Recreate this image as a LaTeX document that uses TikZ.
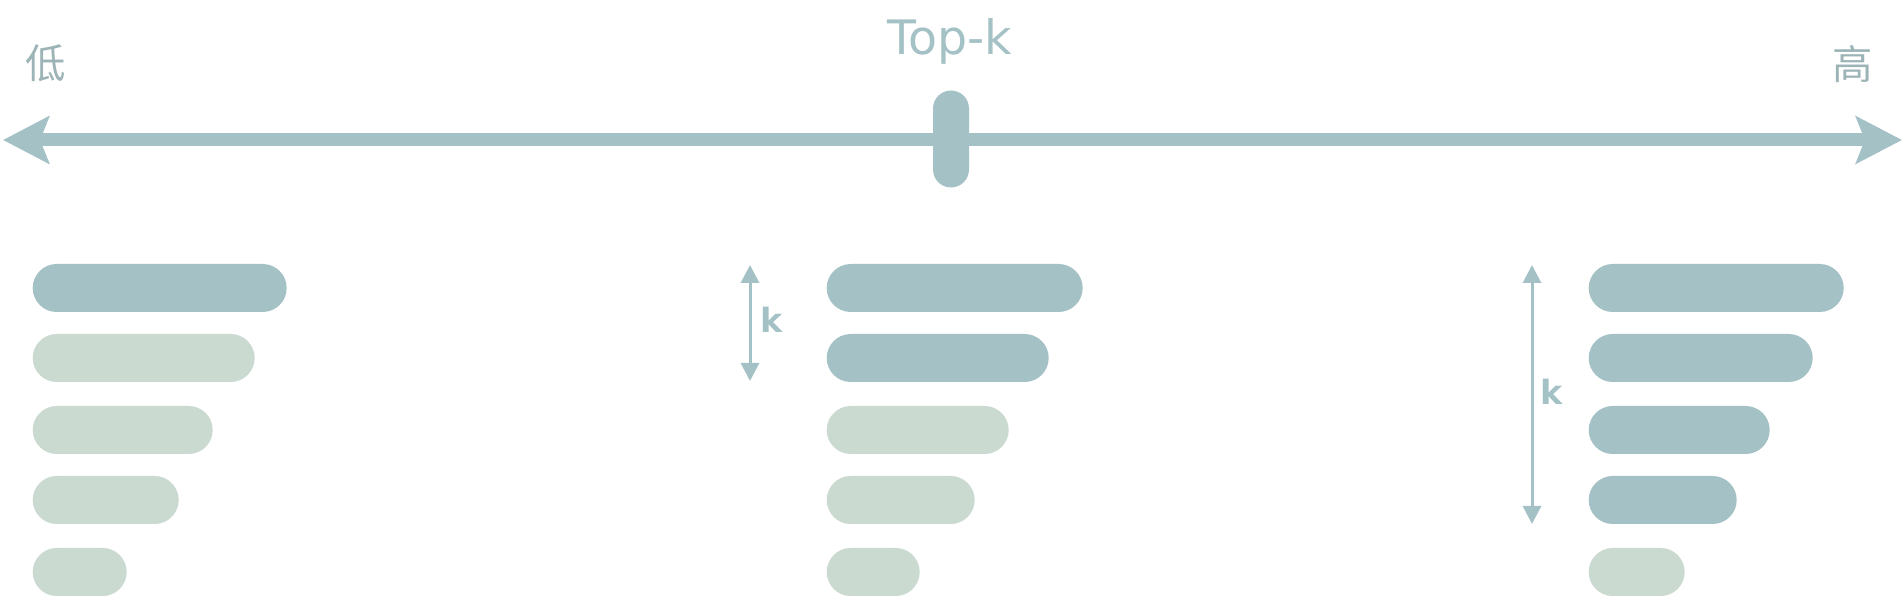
\documentclass[tikz,border=0pt]{standalone}
\usepackage{fontspec}
\setmainfont{DejaVu Sans}
\newfontfamily\cjk{Noto Sans CJK SC}
\usepackage{xcolor}
\usetikzlibrary{arrows.meta,shapes.misc}
\definecolor{barDark}{HTML}{A4C1C6}
\definecolor{barLight}{HTML}{CADAD1}
\definecolor{labelGrey}{HTML}{9DB4B7}

\begin{document}
\begin{tikzpicture}[
    bar/.style={rounded rectangle, inner sep=0, minimum height=0.48cm, anchor=west},
    hot/.style={bar, fill=barDark},
    cold/.style={bar, fill=barLight},
    span/.style={barDark, line width=0.03cm, {Triangle[length=0.18cm,width=0.18cm]}-{Triangle[length=0.18cm,width=0.18cm]}},
    klabel/.style={text=barDark, font=\bfseries\fontsize{9.5}{11}\selectfont}
]
\useasboundingbox (0,0) rectangle (19.04,-5.98);

% Scale
\coordinate (lo) at (0.03,-1.40);
\coordinate (hi) at (19.02,-1.40);
\draw[barDark, line width=0.13cm, {Stealth[length=0.46cm,width=0.47cm,inset=0.09cm]}-{Stealth[length=0.46cm,width=0.47cm,inset=0.09cm]}] (lo) -- (hi);
\node[rounded rectangle, fill=barDark, inner sep=0, minimum width=0.97cm, minimum height=0.36cm, rotate=90] (knob) at (9.51,-1.39) {};

% Labels
\node[text=barDark, anchor=base, font=\fontsize{13.5}{15}\selectfont] (topk) at (9.50,-0.55) {Top-k};
\node[text=labelGrey, inner sep=0, font=\cjk\fontsize{11.5}{12}\selectfont] (low) at (0.46,-0.63) {低};
\node[text=labelGrey, inner sep=0, font=\cjk\fontsize{11.5}{12}\selectfont] (high) at (18.53,-0.64) {高};

% Left column
\node[hot, minimum width=2.54cm] (l1) at (0.32,-2.88) {};
\node[cold, minimum width=2.22cm] (l2) at (0.32,-3.58) {};
\node[cold, minimum width=1.80cm] (l3) at (0.32,-4.30) {};
\node[cold, minimum width=1.46cm] (l4) at (0.32,-5.00) {};
\node[cold, minimum width=0.94cm] (l5) at (0.32,-5.72) {};

% Middle column
\node[hot, minimum width=2.56cm] (m1) at (8.26,-2.88) {};
\node[hot, minimum width=2.22cm] (m2) at (8.26,-3.58) {};
\node[cold, minimum width=1.82cm] (m3) at (8.26,-4.30) {};
\node[cold, minimum width=1.48cm] (m4) at (8.26,-5.00) {};
\node[cold, minimum width=0.93cm] (m5) at (8.26,-5.72) {};

% Right column
\node[hot, minimum width=2.55cm] (r1) at (15.88,-2.88) {};
\node[hot, minimum width=2.24cm] (r2) at (15.88,-3.58) {};
\node[hot, minimum width=1.81cm] (r3) at (15.88,-4.30) {};
\node[hot, minimum width=1.48cm] (r4) at (15.88,-5.00) {};
\node[cold, minimum width=0.96cm] (r5) at (15.88,-5.72) {};

% k spans
\coordinate (mtop) at (7.50,-2.65);
\coordinate (mbot) at (7.50,-3.81);
\coordinate (rtop) at (15.32,-2.65);
\coordinate (rbot) at (15.32,-5.24);
\draw[span] (mtop) -- (mbot);
\draw[span] (rtop) -- (rbot);
\node[klabel] (mk) at (7.72,-3.20) {k};
\node[klabel] (rk) at (15.52,-3.92) {k};
\end{tikzpicture}
\end{document}
